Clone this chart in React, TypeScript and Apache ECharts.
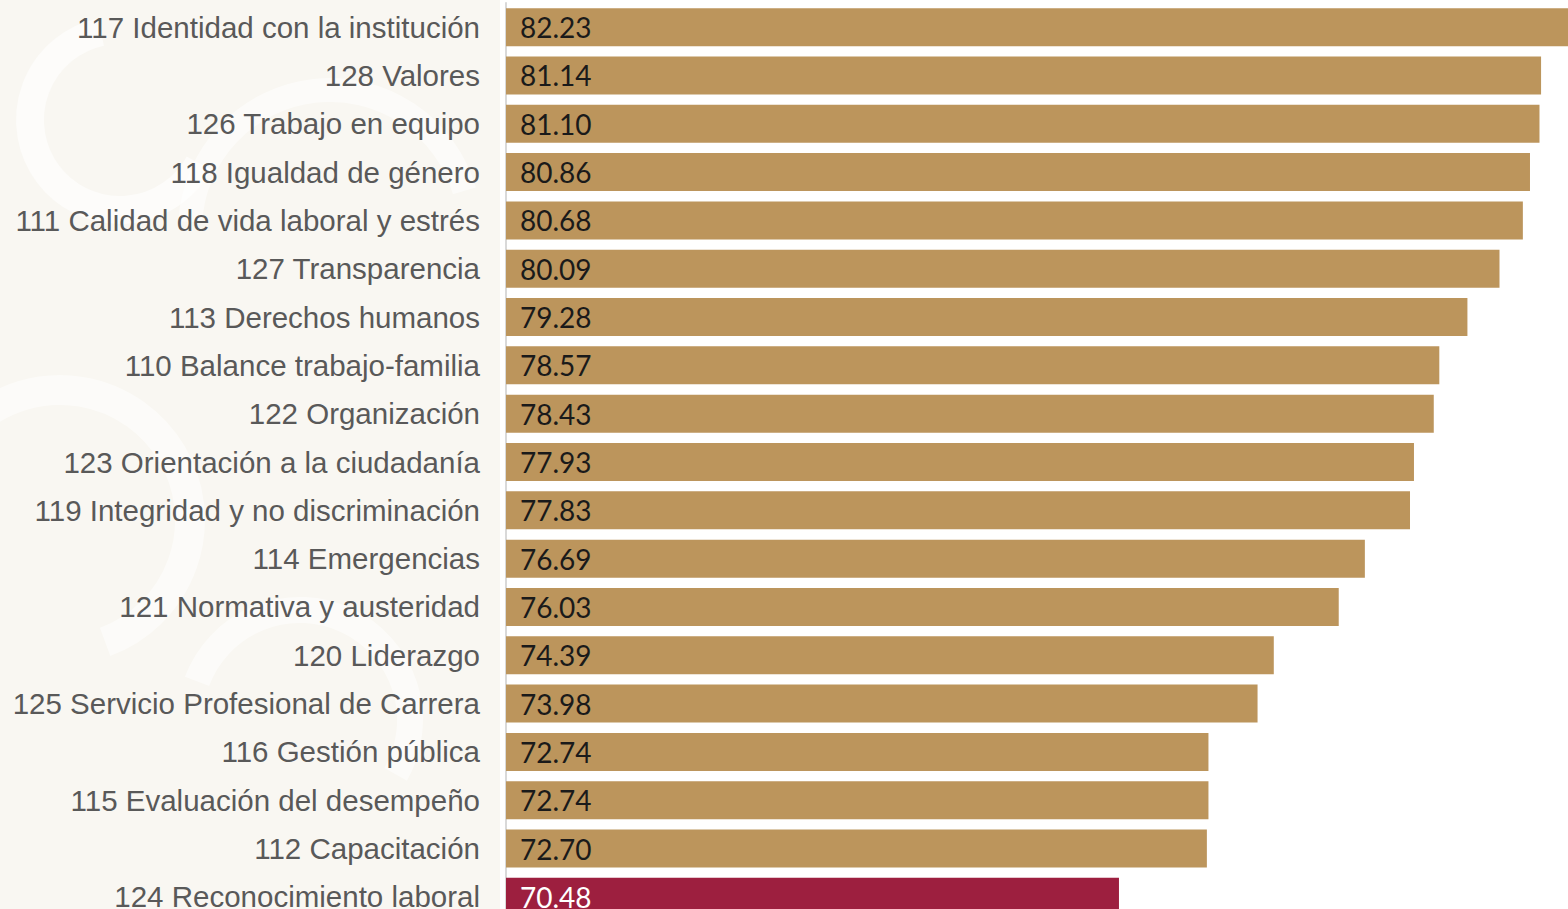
import React, { useEffect, useRef } from "react";
import * as echarts from "echarts";

const categories = [
  "117 Identidad con la institución",
  "128 Valores",
  "126 Trabajo en equipo",
  "118 Igualdad de género",
  "111 Calidad de vida laboral y estrés",
  "127 Transparencia",
  "113 Derechos humanos",
  "110 Balance trabajo-familia",
  "122 Organización",
  "123 Orientación a la ciudadanía",
  "119 Integridad y no discriminación",
  "114 Emergencias",
  "121 Normativa y austeridad",
  "120 Liderazgo",
  "125 Servicio Profesional de Carrera",
  "116 Gestión pública",
  "115 Evaluación del desempeño",
  "112 Capacitación",
  "124 Reconocimiento laboral",
];

const values = [
  82.23, 81.14, 81.1, 80.86, 80.68, 80.09, 79.28, 78.57, 78.43, 77.93, 77.83,
  76.69, 76.03, 74.39, 73.98, 72.74, 72.74, 72.7, 70.48,
];

const lowestIndex = 18;

export default function App() {
  const ref = useRef<HTMLDivElement>(null);
  useEffect(() => {
    if (!ref.current) return;
    const chart = echarts.init(ref.current, undefined, { renderer: "svg" });
    chart.setOption({
      animation: false,
      backgroundColor: "#ffffff",
      graphic: [
        {
          type: "rect",
          z: -10,
          shape: { x: 0, y: 0, width: 500, height: 909 },
          style: { fill: "#F9F7F2" },
          silent: true,
        },
        {
          type: "arc",
          z: -9,
          shape: { cx: 120, cy: 120, r: 90, startAngle: 0.5, endAngle: 4.5 },
          style: { stroke: "#ffffff", lineWidth: 28, fill: "none", opacity: 0.6 },
          silent: true,
        },
        {
          type: "arc",
          z: -9,
          shape: { cx: 330, cy: 230, r: 140, startAngle: 3.2, endAngle: 6.0 },
          style: { stroke: "#ffffff", lineWidth: 24, fill: "none", opacity: 0.5 },
          silent: true,
        },
        {
          type: "arc",
          z: -9,
          shape: { cx: 60, cy: 520, r: 130, startAngle: 4.0, endAngle: 7.5 },
          style: { stroke: "#ffffff", lineWidth: 30, fill: "none", opacity: 0.5 },
          silent: true,
        },
        {
          type: "arc",
          z: -9,
          shape: { cx: 300, cy: 720, r: 110, startAngle: 3.5, endAngle: 6.8 },
          style: { stroke: "#ffffff", lineWidth: 26, fill: "none", opacity: 0.5 },
          silent: true,
        },
      ],
      grid: {
        left: 506,
        right: 0,
        top: 3,
        height: 918,
        containLabel: false,
        outerBoundsMode: "none",
      },
      xAxis: {
        type: "value",
        min: 55,
        max: 81.82,
        show: false,
      },
      yAxis: {
        type: "category",
        inverse: true,
        data: categories,
        axisLine: { show: true, lineStyle: { color: "#D9D9D9", width: 2 } },
        axisTick: { show: false },
        axisLabel: {
          margin: 26,
          fontFamily: "'Liberation Sans', Arial, sans-serif",
          fontSize: 29.5,
          color: "#595959",
        },
      },
      series: [
        {
          type: "bar",
          barWidth: 38,
          clip: true,
          data: values.map((v, i) => ({
            value: v,
            itemStyle: { color: i === lowestIndex ? "#9D1F3F" : "#BC955C" },
            label: { color: i === lowestIndex ? "#ffffff" : "#1a1a1a" },
          })),
          label: {
            show: true,
            position: "insideLeft",
            distance: 14,
            formatter: (p: any) => p.value.toFixed(2),
            fontFamily: "Lato, 'Open Sans', sans-serif",
            fontSize: 28,
          },
        },
      ],
    });
    return () => chart.dispose();
  }, []);
  return (
    <div
      ref={ref}
      style={{ position: "absolute", left: 0, top: 0, width: 1568, height: 909 }}
    />
  );
}
